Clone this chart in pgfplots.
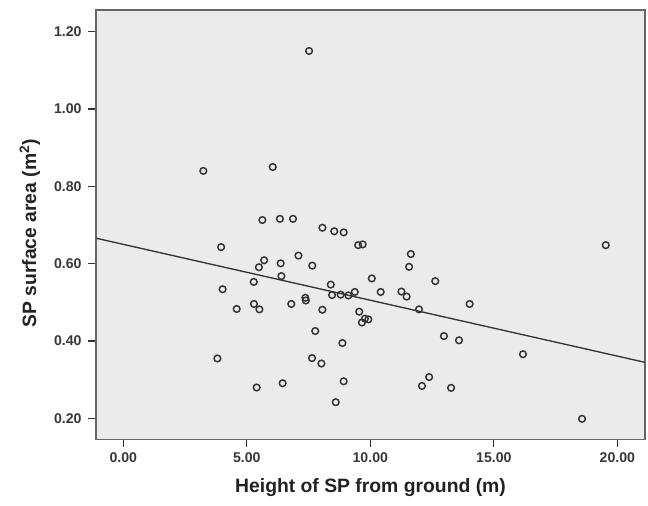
\documentclass[border=0pt]{standalone}
\usepackage{pgfplots}
\pgfplotsset{compat=1.18}
\usepackage{fontspec}
\setmainfont{Liberation Sans}
\definecolor{panelbg}{HTML}{EBEBEB}
\definecolor{framecol}{HTML}{666666}
\definecolor{dotcol}{HTML}{333333}
\definecolor{txtcol}{HTML}{222222}

\begin{document}
\begin{tikzpicture}
\path[use as bounding box] (-72pt,-49.3pt) rectangle (414pt,329.5pt);
\begin{axis}[
    at={(0,0)}, anchor=south west,
    scale only axis,
    width=411.75pt, height=322pt,
    xmin=-1.105, xmax=21.12,
    ymin=0.146, ymax=1.256,
    xtick={0,5,10,15,20},
    ytick={0.2,0.4,0.6,0.8,1.0,1.2},
    tick pos=left,
    tick align=outside,
    major tick length=5.8pt,
    tick style={line width=0.9pt, color=dotcol},
    axis line style={line width=1.1pt, color=framecol},
    axis background/.style={fill=panelbg},
    /pgf/number format/assume math mode=true,
    /pgf/number format/.cd, fixed, fixed zerofill, precision=2,
    /pgfplots/.cd,
    ticklabel style={font=\bfseries\fontsize{10.6}{12}\selectfont, color=txtcol!90!white},
    xticklabel style={yshift=-1pt},
    yticklabel style={xshift=-1.5pt},
    xlabel={\textbf{Height of SP from ground (m)}},
    ylabel={\textbf{SP surface area (m\textsuperscript{2})}},
    label style={font=\fontsize{14.5}{17}\selectfont, color=txtcol},
    xlabel style={at={(axis description cs:0.5,-0.1118)}, anchor=center},
    ylabel style={at={(axis description cs:-0.1202,0.48)}, anchor=center},
]
% fit line
\addplot[no marks, line width=1pt, color=dotcol] coordinates {
    (-1.105,0.666) (21.12,0.345)
};
% observations
\addplot[only marks, mark=o, mark size=2.5pt, mark options={line width=1.1pt, draw=dotcol}] coordinates {
    (7.52,1.150) (3.24,0.840) (6.05,0.850) (5.63,0.713) (6.34,0.716)
    (6.87,0.716) (8.06,0.693) (8.54,0.684) (8.92,0.681) (3.96,0.643)
    (5.70,0.609) (5.49,0.591) (6.37,0.601) (7.09,0.621) (7.65,0.595)
    (6.40,0.568) (5.28,0.553) (4.02,0.534) (8.40,0.546) (8.45,0.519)
    (8.80,0.520) (9.11,0.518) (9.37,0.527) (7.37,0.512) (7.39,0.505)
    (6.80,0.496) (5.29,0.496) (5.51,0.482) (4.59,0.483) (8.06,0.481)
    (9.55,0.476) (9.66,0.448) (9.78,0.458) (9.92,0.456) (7.77,0.426)
    (8.87,0.395) (3.81,0.355) (7.64,0.356) (8.02,0.342) (8.92,0.296)
    (6.45,0.291) (5.40,0.280) (8.60,0.242) (9.51,0.648) (9.69,0.650)
    (10.06,0.562) (19.53,0.648) (11.64,0.625) (11.57,0.592) (12.63,0.555)
    (10.42,0.527) (11.26,0.528) (11.47,0.515) (14.02,0.496) (11.97,0.482)
    (12.98,0.413) (13.59,0.402) (16.18,0.366) (12.38,0.307) (12.09,0.284)
    (13.27,0.279) (18.57,0.199)
};
\end{axis}
\end{tikzpicture}
\end{document}
